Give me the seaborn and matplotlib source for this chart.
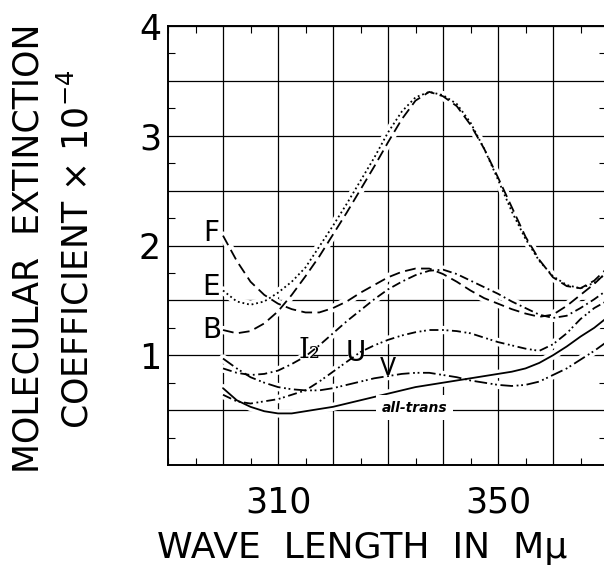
import pandas as pd
import matplotlib
matplotlib.use('Agg')
import matplotlib.pyplot as plt
from matplotlib.ticker import MultipleLocator
import seaborn as sns

# wave length (m-mu) and extinction coefficients x 10^-4
wave = [300, 302.5, 305, 307.5, 310, 312.5, 315, 317.5, 320, 322.5, 325, 327.5, 330, 332.5,
        335, 337.5, 340, 342.5, 345, 347.5, 350, 352.5, 355, 357.5, 360, 362.5, 365, 367.5, 370]

F = [2.09, 1.86, 1.67, 1.55, 1.47, 1.42, 1.39, 1.39, 1.43, 1.49, 1.57, 1.64, 1.71, 1.76,
     1.79, 1.79, 1.74, 1.67, 1.59, 1.52, 1.47, 1.42, 1.38, 1.35, 1.37, 1.45, 1.55, 1.65, 1.77]
E = [1.59, 1.49, 1.46, 1.49, 1.57, 1.67, 1.80, 1.99, 2.18, 2.38, 2.59, 2.80, 3.03, 3.22,
     3.35, 3.40, 3.37, 3.29, 3.12, 2.88, 2.60, 2.31, 2.06, 1.86, 1.72, 1.64, 1.61, 1.66, 1.76]
B = [1.23, 1.20, 1.22, 1.29, 1.40, 1.55, 1.72, 1.90, 2.10, 2.30, 2.51, 2.72, 2.94, 3.15,
     3.32, 3.40, 3.36, 3.27, 3.10, 2.88, 2.62, 2.35, 2.08, 1.87, 1.71, 1.63, 1.61, 1.68, 1.80]
I2 = [0.88, 0.84, 0.82, 0.83, 0.86, 0.92, 0.99, 1.09, 1.20, 1.31, 1.41, 1.51, 1.60, 1.67,
      1.73, 1.77, 1.78, 1.74, 1.68, 1.62, 1.56, 1.49, 1.43, 1.37, 1.34, 1.36, 1.43, 1.51, 1.60]
U = [0.64, 0.58, 0.56, 0.58, 0.60, 0.64, 0.68, 0.76, 0.85, 0.94, 1.03, 1.09, 1.14, 1.18,
     1.21, 1.23, 1.23, 1.22, 1.20, 1.16, 1.12, 1.09, 1.06, 1.04, 1.10, 1.20, 1.33, 1.43, 1.50]
V = [0.97, 0.88, 0.80, 0.75, 0.71, 0.69, 0.68, 0.68, 0.70, 0.73, 0.76, 0.79, 0.81, 0.83,
     0.84, 0.84, 0.82, 0.80, 0.77, 0.75, 0.73, 0.72, 0.73, 0.76, 0.82, 0.88, 0.96, 1.04, 1.13]
all_trans = [0.70, 0.59, 0.53, 0.49, 0.47, 0.47, 0.49, 0.51, 0.53, 0.56, 0.59, 0.62, 0.65, 0.68,
             0.71, 0.73, 0.75, 0.77, 0.79, 0.81, 0.83, 0.85, 0.88, 0.93, 1.00, 1.08, 1.17, 1.25, 1.35]

x_ticks = [300, 310, 320, 330, 340, 350, 360]
x_labels = ['', '310', '', '', '', '350', '']
y_ticks = [0, 0.5, 1, 1.5, 2, 2.5, 3, 3.5, 4]
y_labels = ['', '', '1', '', '2', '', '3', '', '4']

curves = {'F': F, 'E': E, 'B': B, 'I2': I2, 'U': U, 'V': V, 'all-trans': all_trans}
df = pd.concat([pd.DataFrame({'wave': wave, 'eps': v, 'curve': k}) for k, v in curves.items()])

# line styles of the original drawing
dash_map = {'F': (6, 3), 'E': (1, 1.6), 'B': (6, 3), 'I2': (5, 2, 1, 2),
            'U': (5, 2, 1, 1.5, 1, 2), 'V': (7, 2, 1, 1.5, 1, 2), 'all-trans': ''}

sns.set_style('white')
plt.rcParams['font.family'] = ['DejaVu Sans']
plt.rcParams['text.color'] = 'black'

fig = plt.figure(figsize=(6.04, 5.73), dpi=100)
ax = fig.add_axes([168/604, 108/573, 438/604, 439/573])

# white halo under the curves breaks the grid like in the print
sns.lineplot(data=df, x='wave', y='eps', units='curve', estimator=None, color='white',
             lw=6, ax=ax, legend=False, zorder=2)
sns.lineplot(data=df, x='wave', y='eps', style='curve', dashes=dash_map, color='black',
             lw=1.3, ax=ax, legend=False, zorder=3)

ax.set_xlim(290, 290 + 438/5.5)
ax.set_ylim(0, 4)
ax.set_xticks(x_ticks)
ax.set_xticklabels(x_labels)
ax.set_yticks(y_ticks)
ax.set_yticklabels(y_labels)
ax.xaxis.set_minor_locator(MultipleLocator(5))
ax.yaxis.set_minor_locator(MultipleLocator(0.25))
ax.grid(True, which='major', color='black', lw=0.9)
ax.tick_params(which='major', direction='in', length=0, labelsize=25, colors='black')
ax.tick_params(axis='x', which='major', pad=15)
ax.tick_params(axis='y', which='major', pad=5)
ax.tick_params(which='minor', direction='in', length=5, width=0.8, color='black',
               top=True, right=True, bottom=True, left=True)
for s in ax.spines.values():
    s.set_color('black')
    s.set_linewidth(1.4)
ax.set_xlabel('')
ax.set_ylabel('')

# curve labels
ax.text(297.8, 2.11, 'F', ha='center', va='center', fontsize=20)
ax.text(297.9, 1.62, 'E', ha='center', va='center', fontsize=20)
ax.text(297.9, 1.23, 'B', ha='center', va='center', fontsize=20)
ax.text(315.8, 1.04, 'I\u2082', ha='center', va='center', fontsize=20, family='DejaVu Serif')
ax.text(324.2, 1.02, 'U', ha='center', va='center', fontsize=20)
ax.text(330.0, 0.88, 'V', ha='center', va='center', fontsize=17)
ax.text(334.8, 0.52, 'all-trans', ha='center', va='center', fontsize=10,
        style='italic', weight='bold', zorder=4,
        bbox=dict(facecolor='white', edgecolor='none', pad=4))

fig.text(362/604, 1 - 548/573, 'WAVE  LENGTH  IN  M\u03bc', ha='center', va='center', fontsize=26)
fig.text(29/604, 0.566, 'MOLECULAR  EXTINCTION', rotation=90, ha='center', va='center', fontsize=25)
fig.text(77/604, 0.566, r'COEFFICIENT $\times$ 10$^{-4}$', rotation=90, ha='center', va='center',
         fontsize=25)

plt.savefig('out.png', dpi=100)
